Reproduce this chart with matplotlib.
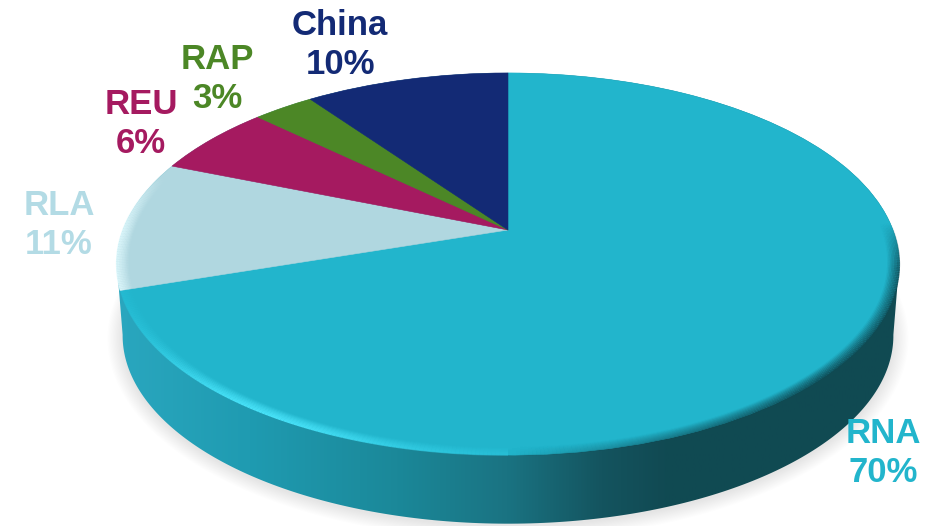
import numpy as np
import matplotlib
matplotlib.use("Agg")
import matplotlib.pyplot as plt
from matplotlib.transforms import Transform
from matplotlib.patches import Polygon
from matplotlib.collections import LineCollection
from matplotlib.colors import LinearSegmentedColormap, to_rgb

categories = ["RNA", "RLA", "REU", "RAP", "China"]
shares = [70, 11, 6, 3, 10]
colors = ["#22b5cc", "#b0d7e0", "#a51a60", "#4c8726", "#132a75"]
label_colors = ["#22b5cc", "#b3dbe5", "#a51a60", "#4c8726", "#132a75"]
label_pos = [(883, 453), (59, 225), (141, 124), (217, 79), (340, 45)]

# view of the tilted disc, in pixels
CX, CY, A, B, K = 508.0, 230.0, 385.0, 185.0, 0.178
DEPTH = 72.0
BOTTOM_SCALE = 0.985


def project(x, y, scale=1.0, dy=0.0):
    d = 1 + K * y
    return CX + scale * A * x / d, CY + dy - scale * B * y / d


class Tilt(Transform):
    input_dims = output_dims = 2
    is_affine = False

    def transform_non_affine(self, values):
        v = np.asarray(values, dtype=float)
        X, Y = project(v[:, 0], v[:, 1])
        return np.column_stack([X, Y])


plt.rcParams["font.family"] = ["Liberation Sans", "DejaVu Sans"]
fig = plt.figure(figsize=(9.35, 5.26), dpi=100)
ax = fig.add_axes([0, 0, 1, 1])


def rim(t_deg, r=1.0, scale=1.0, dy=0.0):
    t = np.radians(t_deg)
    return project(r * np.sin(t), r * np.cos(t), scale, dy)


# soft shadow under the disc
t_all = np.linspace(0, 360, 361)
bx, by = rim(t_all, 1.0, BOTTOM_SCALE, DEPTH)
bcx, bcy = bx.mean(), by.mean()
for grow in np.arange(15, 0, -1.2):
    sx = bcx + (bx - bcx) * (1 + grow / 385)
    sy = bcy + 2 + (by - bcy) * (1 + grow / 225)
    ax.add_patch(Polygon(np.column_stack([sx, sy]), closed=True,
                         fc="#808080", ec="none", alpha=0.016, zorder=1))

# side wall with horizontal shading
stops = [(0.0, "#2aa7bf"), (0.17, "#1f9bb1"), (0.36, "#1b8899"), (0.50, "#1a7382"),
         (0.62, "#14545f"), (0.70, "#114a53"), (1.0, "#104a52")]
wall = LinearSegmentedColormap.from_list("wall", stops)
t_low = np.linspace(100, 260, 200)
t_up = np.linspace(260, 460, 200)
lx, ly = rim(t_low, 1.0, BOTTOM_SCALE, DEPTH)
ux, uy = rim(t_up)
outline = np.column_stack([np.r_[lx, ux], np.r_[ly, uy]])
im = ax.imshow(np.linspace(0, 1, 512)[None, :], cmap=wall, aspect="auto",
               extent=(115, 900, 530, 60), zorder=2)
im.set_clip_path(Polygon(outline, closed=True, transform=ax.transData))

# top face
wedges, _ = ax.pie(shares, colors=colors, startangle=90, counterclock=False,
                   radius=1.0, center=(0, 0), normalize=True,
                   wedgeprops={"linewidth": 0.4})
tilt = Tilt()
for w, c in zip(wedges, colors):
    w.set_transform(tilt + ax.transData)
    w.set_edgecolor(c)
    w.set_zorder(3)


# bevel along the rim of the top face
def rim_colour(t):
    """Colour and strength of the bevel at a clockwise angle from 12 o'clock."""
    if 252 < t <= 292:
        return "#dff9fd", 0.9 * min(1, (288 - t) / 18) if t < 288 else 0.0
    if 180 <= t <= 252:
        bright = np.exp(-((t - 213) / 24) ** 2)
        base = np.array(to_rgb("#28c6de"))
        top = np.array(to_rgb("#48e2f8"))
        return tuple(base + (top - base) * bright), 0.25 + 0.75 * bright
    if 88 <= t < 180:
        fade_in = min(1.0, max(0.0, (t - 88) / 14))
        return "#0f4a54", min(1.0, (180 - t) / 45) * 0.85 * fade_in
    return "#22b5cc", 0.0


t_seg = np.linspace(88, 292, 409)
for r, strength in zip(np.linspace(1.0, 0.972, 9), np.linspace(1.0, 0.08, 9)):
    xs, ys = rim(t_seg, r)
    pts = np.column_stack([xs, ys])
    segs = np.stack([pts[:-1], pts[1:]], axis=1)
    cols = []
    for t in 0.5 * (t_seg[:-1] + t_seg[1:]):
        c, a = rim_colour(t)
        cols.append((*to_rgb(c), a * strength))
    ax.add_collection(LineCollection(segs, colors=cols, linewidths=1.2,
                                     capstyle="butt", zorder=4))

# labels
for name, share, col, (x, y) in zip(categories, shares, label_colors, label_pos):
    ax.text(x, y, f"{name}\n{share}%", color=col, ha="center", va="center",
            fontsize=25, fontweight="bold", linespacing=1.25, zorder=6)

ax.set_xlim(0, 935)
ax.set_ylim(526, 0)
ax.set_aspect("auto")
ax.axis("off")
fig.savefig("out.png", dpi=100, facecolor="white")
